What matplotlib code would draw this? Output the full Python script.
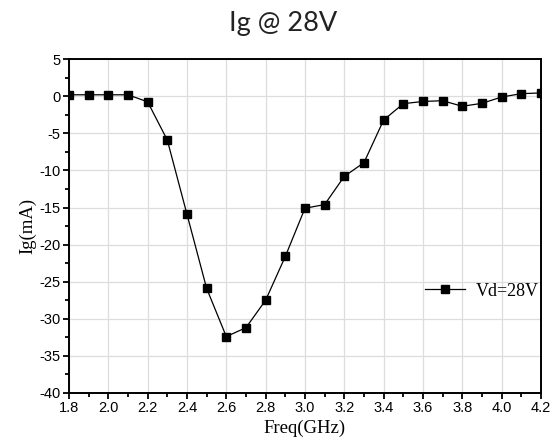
import matplotlib
matplotlib.use("Agg")
import matplotlib.pyplot as plt
from matplotlib.ticker import MultipleLocator

freq = [1.8, 1.9, 2.0, 2.1, 2.2, 2.3, 2.4, 2.5, 2.6, 2.7, 2.8, 2.9, 3.0,
        3.1, 3.2, 3.3, 3.4, 3.5, 3.6, 3.7, 3.8, 3.9, 4.0, 4.1, 4.2]
ig = [0.2, 0.2, 0.2, 0.2, -0.75, -5.9, -15.9, -25.9, -32.4, -31.2, -27.5,
      -21.6, -15.1, -14.6, -10.8, -8.95, -3.2, -1.0, -0.7, -0.6, -1.35,
      -0.95, -0.1, 0.35, 0.45]

plt.rcParams['axes.unicode_minus'] = False

fig = plt.figure(figsize=(5.56, 4.45), dpi=100)
ax = fig.add_axes([0.124, 0.117, 0.849, 0.750])

ax.plot(freq, ig, color='black', lw=0.9, marker='s', ms=5.5, label='Vd=28V')

ax.set_xlim(1.8, 4.2)
ax.set_ylim(-40, 5)
ax.xaxis.set_major_locator(MultipleLocator(0.2))
ax.xaxis.set_minor_locator(MultipleLocator(0.1))
ax.yaxis.set_major_locator(MultipleLocator(5))
ax.yaxis.set_minor_locator(MultipleLocator(2.5))
ax.grid(True, which='major', color='#dddddd', lw=0.9)
ax.set_axisbelow(True)
ax.tick_params(which='both', direction='out', width=1.3, labelsize=10.5,
               top=False, right=False, pad=2)
ax.tick_params(which='major', length=4)
ax.tick_params(which='minor', length=3)
for lbl in ax.get_xticklabels() + ax.get_yticklabels():
    lbl.set_fontfamily('Liberation Sans')
for s in ax.spines.values():
    s.set_linewidth(1.4)

ax.set_xlabel('Freq(GHz)', family='Liberation Serif', fontsize=13.5, labelpad=3)
ax.set_ylabel('Ig(mA)', family='Liberation Serif', fontsize=13.5, labelpad=2)

ax.legend(loc='center left', bbox_to_anchor=(0.72, 0.305), frameon=False,
          prop={'family': 'Liberation Serif', 'size': 13}, handlelength=2.2,
          handletextpad=0.6)

fig.text(0.51, 0.947, 'Ig @ 28V', ha='center', va='center', fontsize=19.5,
         family='Lato', color='#222222')

fig.savefig('out.png', dpi=100)
